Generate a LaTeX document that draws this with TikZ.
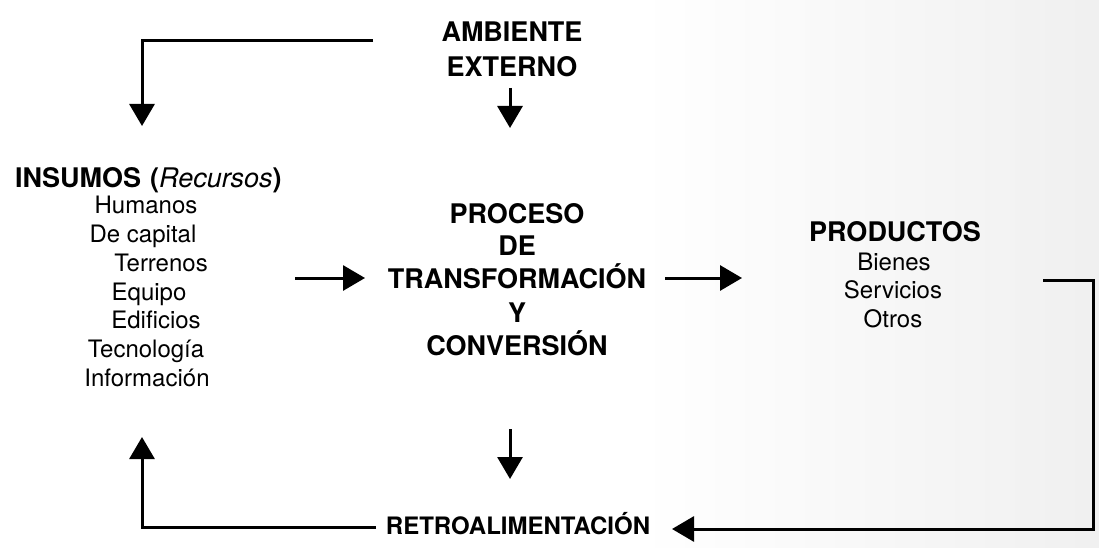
\documentclass[tikz,border=0pt]{standalone}
\usepackage{fontspec}
\setmainfont{TeX Gyre Heros}
\usetikzlibrary{arrows.meta}
\begin{document}
\begin{tikzpicture}[x=1pt,y=-1pt,
  txt/.style={inner sep=0pt,anchor=base,text=black},
  head/.style={txt,font=\fontsize{27}{30}\selectfont\bfseries},
  item/.style={txt,font=\fontsize{24}{28}\selectfont},
  conn/.style={line width=3pt,draw=black},
  arr/.style={conn,-{Triangle[width=25pt,length=22pt]}}]
\useasboundingbox (0,0) rectangle (1099,548);
\fill[white] (0,0) rectangle (1099,548);
\shade[left color=white,right color=black!6,draw=none] (640,0) rectangle (1099,548);
% headings
\node[head] (amb1) at (512,42) {AMBIENTE};
\node[head] (amb2) at (512,77) {EXTERNO};
\node[head,anchor=base west] (ins) at (15,187) {INSUMOS\hspace{9pt}(\mdseries\itshape Recursos\/\upshape\bfseries)};
\node[item] (i1) at (146,213) {Humanos};
\node[item] (i2) at (143,242) {De capital};
\node[item] (i3) at (161,271) {Terrenos};
\node[item] (i4) at (149,300) {Equipo};
\node[item] (i5) at (156,328) {Edificios};
\node[item] (i6) at (146,357) {Tecnología};
\node[item] (i7) at (147,386) {Información};
\node[head] (p1) at (517,223) {PROCESO};
\node[head] (p2) at (517,255) {DE};
\node[head] (p3) at (517,288) {TRANSFORMACIÓN};
\node[head] (p4) at (517,322) {Y};
\node[head] (p5) at (517,355) {CONVERSIÓN};
\node[head] (prod) at (895,241) {PRODUCTOS};
\node[item] (o1) at (894,270) {Bienes};
\node[item] (o2) at (893,298) {Servicios};
\node[item] (o3) at (893,327) {Otros};
\node[txt,font=\fontsize{24}{28}\selectfont\bfseries] (retro) at (518,534) {RETROALIMENTACIÓN};
% coordinates
\coordinate (tl0) at (373,41);
\coordinate (tlc) at (142,41);
\coordinate (tl1) at (142,126);
\coordinate (a0) at (510,88);
\coordinate (a1) at (510,128);
\coordinate (h0) at (295,278);
\coordinate (h1) at (365,278);
\coordinate (h2) at (665,278);
\coordinate (h3) at (742,278);
\coordinate (d0) at (510,429);
\coordinate (d1) at (510,479);
\coordinate (r0) at (1043,280);
\coordinate (r1) at (1093,280);
\coordinate (r2) at (1093,529);
\coordinate (r3) at (672,529);
\coordinate (l0) at (376,527);
\coordinate (l1) at (142,527);
\coordinate (l2) at (142,437);
% connectors
\draw[arr] (tl0) -- (tlc) -- (tl1);
\draw[arr] (a0) -- (a1);
\draw[arr] (h0) -- (h1);
\draw[arr] (h2) -- (h3);
\draw[arr] (d0) -- (d1);
\draw[arr] (r0) -- (r1) -- (r2) -- (r3);
\draw[arr] (l0) -- (l1) -- (l2);
\end{tikzpicture}
\end{document}
